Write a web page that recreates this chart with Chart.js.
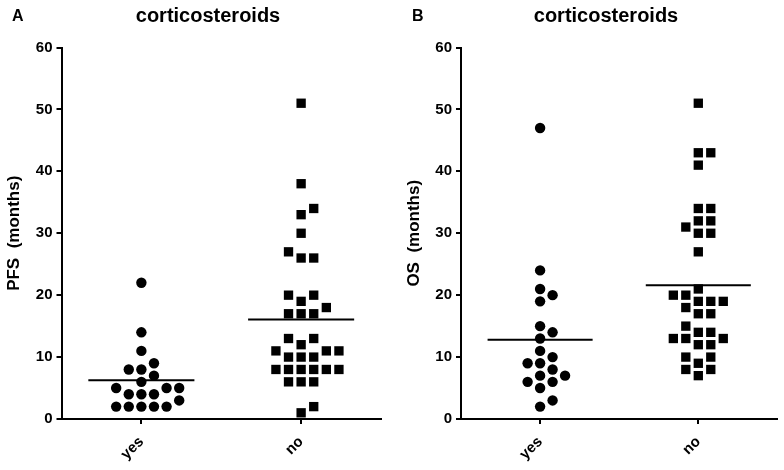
<!DOCTYPE html>
<html>
<head>
<meta charset="utf-8">
<script src="https://cdn.jsdelivr.net/npm/chart.js@4.4.1/dist/chart.umd.min.js"></script>
<style>
  body { margin: 0; background: #fff; }
  #wrap { position: relative; width: 784px; height: 470px; font-family: 'Liberation Sans', Arial, sans-serif; font-weight: bold; color: #000; }
  .panel { position: absolute; top: 0; width: 392px; height: 470px; }
  .lbl { position: absolute; font-size: 16px; line-height: 1; }
  .ttl { position: absolute; font-size: 20px; line-height: 1; transform: translateX(-50%); white-space: nowrap; }
</style>
</head>
<body>
<div id="wrap">
  <div class="panel" style="left:0"><canvas id="chartA" width="392" height="470"></canvas></div>
  <div class="panel" style="left:392px"><canvas id="chartB" width="392" height="470"></canvas></div>
  <div class="lbl" style="left:12px;top:8px">A</div>
  <div class="ttl" style="left:208px;top:5px">corticosteroids</div>
  <div class="lbl" style="left:412px;top:8px">B</div>
  <div class="ttl" style="left:606px;top:5px">corticosteroids</div>
</div>
<script>
// groups and values (months)
var groups = ["yes", "no"];
var yTicks = [0, 10, 20, 30, 40, 50, 60];
var pfsYes = [22, 14, 11, 9, 8, 8, 7, 6, 5, 5, 5, 4, 4, 4, 3, 2, 2, 2, 2, 2];
var pfsNo = [51, 38, 34, 33, 30, 27, 26, 26, 20, 20, 19, 18, 17, 17, 17, 13, 13, 12, 11, 11, 11,
             10, 10, 10, 8, 8, 8, 8, 8, 8, 6, 6, 6, 2, 1];
var osYes = [47, 24, 21, 20, 19, 15, 14, 13, 11, 10, 9, 9, 8, 7, 7, 6, 6, 5, 3, 2];
var osNo = [51, 43, 43, 41, 34, 34, 32, 32, 31, 30, 30, 27, 21, 20, 20, 19, 19, 19, 18, 17, 17,
            15, 14, 14, 13, 13, 13, 12, 12, 10, 10, 9, 8, 8, 7];

Chart.defaults.font.family = "'Liberation Sans', Arial, sans-serif";
Chart.defaults.font.weight = "bold";
Chart.defaults.color = "#000";

// approx pixels per axis unit, used only to spread overlapping dots sideways
var PX_X = 159.7, PX_Y = 6.19, STEP = 12.6, GAP = 10;

function swarm(values, cx) {
    var placed = [], out = [];
    var order = values.map(function (v, i) { return i; }).sort(function (a, b) { return values[a] - values[b]; });
    order.forEach(function (i) {
        var y = values[i] * PX_Y, dx = 0;
        for (var n = 0; n < 40; n++) {
            dx = Math.ceil(n / 2) * (n % 2 ? 1 : -1) * 0.5 * STEP;
            var ok = placed.every(function (p) { return Math.hypot(p.x - dx, p.y - y) >= GAP; });
            if (ok) break;
        }
        placed.push({ x: dx, y: y });
        out.push({ x: cx + dx / PX_X, y: values[i] });
    });
    return out;
}

function mean(a) { return a.reduce(function (s, v) { return s + v; }, 0) / a.length; }

function meanLine(values, cx) {
    var m = mean(values);
    return {
        type: "line", data: [{ x: cx - 0.332, y: m }, { x: cx + 0.332, y: m }],
        borderColor: "#000", borderWidth: 2, pointRadius: 0, clip: false
    };
}

function makeChart(id, yesVals, noVals, yTitle, opts) {
    var axisGrid = { drawOnChartArea: false, drawTicks: true, tickLength: 5, color: "#000", lineWidth: 2 };
    return new Chart(document.getElementById(id), {
        type: "scatter",
        data: {
            datasets: [
                { data: swarm(yesVals, 1), pointStyle: "circle", pointRadius: 5.2, pointBorderWidth: 0,
                  backgroundColor: "#000", borderColor: "#000", clip: false },
                { data: swarm(noVals, 2), pointStyle: "rect", pointRadius: 6.6, pointBorderWidth: 0,
                  backgroundColor: "#000", borderColor: "#000", clip: false },
                meanLine(yesVals, 1),
                meanLine(noVals, 2)
            ]
        },
        options: {
            responsive: false,
            animation: false,
            events: [],
            layout: { padding: { top: 47.5, right: opts.right, bottom: 0, left: 0 } },
            plugins: { legend: { display: false }, tooltip: { enabled: false } },
            scales: {
                x: {
                    type: "linear", min: 0.5, max: 2.5,
                    afterBuildTicks: function (s) { s.ticks = [{ value: 1 }, { value: 2 }]; },
                    afterFit: function (s) { s.height = 51; },
                    ticks: {
                        autoSkip: false, minRotation: 45, maxRotation: 45, padding: 9,
                        font: { size: 15, weight: "bold" },
                        callback: function (v) { return groups[v - 1]; }
                    },
                    grid: axisGrid,
                    border: { display: true, color: "#000", width: 2 }
                },
                y: {
                    min: 0, max: 60,
                    afterBuildTicks: function (s) { s.ticks = yTicks.map(function (v) { return { value: v }; }); },
                    afterFit: function (s) { s.width = opts.axisX; },
                    ticks: { padding: 4, font: { size: 15, weight: "bold" } },
                    grid: axisGrid,
                    border: { display: true, color: "#000", width: 2 },
                    title: { display: true, text: yTitle, font: { size: 17, weight: "bold" }, padding: { top: opts.titlePad } }
                }
            }
        }
    });
}

makeChart("chartA", pfsYes, pfsNo, "PFS  (months)", { axisX: 61.5, right: 11, titlePad: 4.3 });
makeChart("chartB", osYes, osNo, "OS  (months)", { axisX: 69, right: 5, titlePad: 11.8 });
</script>
</body>
</html>
